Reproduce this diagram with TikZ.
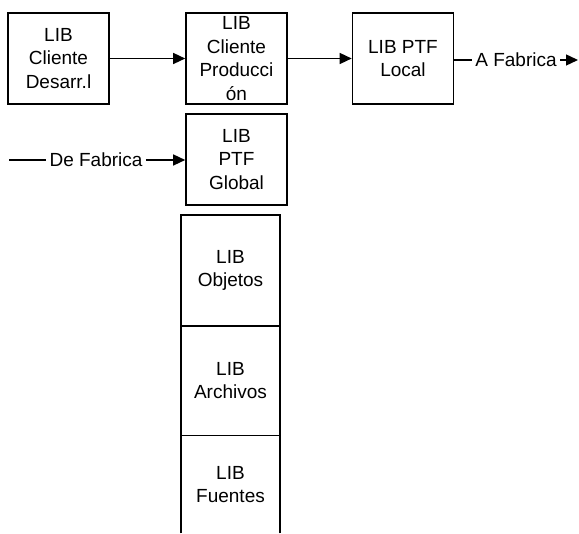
\documentclass[tikz,border=0pt]{standalone}
\usepackage{fontspec}
\setmainfont{Liberation Sans}
\usepackage{tikz}
\usetikzlibrary{shapes.geometric, arrows.meta, positioning}
\tikzstyle{libbox} = [rectangle, draw, line width=0.8pt, align=center, inner sep=0pt, minimum width=50.5pt, minimum height=45.5pt]
\tikzstyle{pilebox} = [libbox, minimum width=49.5pt, minimum height=55pt]
\tikzstyle{arrow} = [line width=0.7pt, -{Triangle[length=6pt,width=5.5pt]}]

\begin{document}
\begin{tikzpicture}[x=0.5pt, y=-0.5pt, node distance=50pt, font=\fontsize{9.5}{11.75}\selectfont]
        \useasboundingbox (0,0) rectangle (579,534);
        \node (desarr) [libbox] at (58.5,58.5) {LIB\\Cliente\\Desarr.l};
        \node (prod) [libbox, right of=desarr, xshift=39pt] {LIB\\Cliente\\Producci\\ón};
        \node (local) [libbox, right of=prod, xshift=33.25pt] {LIB PTF\\Local};
        \node (global) [libbox, below of=prod, yshift=-0.5pt] {LIB\\PTF\\Global};
        \node (objetos) [pilebox, minimum height=55.5pt, below of=global, xshift=-3pt, yshift=-5.5pt] {LIB\\Objetos};
        \node (archivos) [pilebox, below of=objetos, yshift=-5pt] {LIB\\Archivos};
        \node (fuentes) [pilebox, draw=none, outer sep=0pt, minimum height=49pt, below of=archivos, yshift=-2pt] {LIB\\Fuentes};
        \node (afab) [inner sep=1.5pt] at (516,60) {A Fabrica};
        \node (defab) [inner sep=1.5pt] at (96,160) {De Fabrica};
        \coordinate (fabout) at (578,60);
        \coordinate (fabin) at (9,160);

        \draw [line width=0.8pt] (fuentes.south west) -- (fuentes.north west);
        \draw [line width=0.8pt] (fuentes.south east) -- (fuentes.north east);
        \draw [arrow] (desarr) -- (prod);
        \draw [arrow] (prod) -- (local);
        \draw [line width=0.7pt] (local.east |- afab) -- (afab);
        \draw [arrow] (afab) -- (fabout);
        \draw [line width=0.7pt] (fabin) -- (defab);
        \draw [arrow] (defab) -- (global.west |- defab);
    \end{tikzpicture}
\end{document}
